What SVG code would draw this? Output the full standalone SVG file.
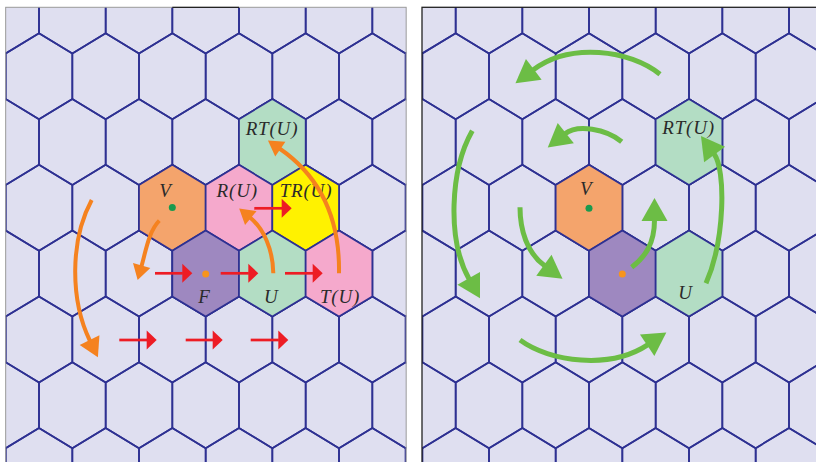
<svg xmlns="http://www.w3.org/2000/svg" width="816" height="462" viewBox="0 0 816 462">
<style>
.bg{fill:#dfdff0}
.gl{fill:none;stroke:#2e3192;stroke-width:1.7}
.hex{stroke:#2e3192;stroke-width:1.7}
.or{fill:#f4a46c}
.pu{fill:#9e88c0}
.gr{fill:#b3ddc4}
.pk{fill:#f5a9cc}
.ye{fill:#fff200}
.lbl{font-family:"Liberation Serif","Times New Roman",serif;font-style:italic;font-size:19px;fill:#2a2a2a;text-anchor:middle;letter-spacing:0.8px}
.ao{fill:none;stroke:#f5821f;stroke-width:4}
.ag{fill:none;stroke:#6cbd45;stroke-width:5}
.ar{fill:none;stroke:#ed1c24;stroke-width:2.7}
.dg{fill:#1a9a4e}
.do{fill:#f7941d}
</style>
<defs>
<path id="hx" d="M0,-43L33.33,-22.8L33.33,22.8L0,43L-33.33,22.8L-33.33,-22.8Z"/>
<g id="re"><use href="#hx" x="5.67"/><use href="#hx" x="72.33"/><use href="#hx" x="139"/><use href="#hx" x="205.67"/><use href="#hx" x="272.33"/><use href="#hx" x="339"/><use href="#hx" x="405.67"/></g>
<g id="ro"><use href="#hx" x="-27.67"/><use href="#hx" x="39"/><use href="#hx" x="105.67"/><use href="#hx" x="172.33"/><use href="#hx" x="239"/><use href="#hx" x="305.67"/><use href="#hx" x="372.33"/><use href="#hx" x="439"/></g>
<g id="grid" class="gl"><use href="#re" y="10.4"/><use href="#ro" y="76.2"/><use href="#re" y="142"/><use href="#ro" y="207.8"/><use href="#re" y="273.6"/><use href="#ro" y="339.4"/><use href="#re" y="405.2"/><use href="#ro" y="471"/></g>
<clipPath id="clipL"><rect x="5.67" y="7.3" width="400.5" height="460"/></clipPath>
<clipPath id="clipR"><rect x="422" y="7.3" width="400" height="460"/></clipPath>
<marker id="mr" markerUnits="userSpaceOnUse" markerWidth="11" markerHeight="20" refX="0.5" refY="9.5" orient="auto" overflow="visible"><path d="M0,0L10,9.5L0,19Z" fill="#ed1c24"/></marker>
<marker id="mo" markerUnits="userSpaceOnUse" markerWidth="15" markerHeight="18" refX="1" refY="9" orient="auto" overflow="visible"><path d="M0,0L15,9L0,18Z" fill="#f5821f"/></marker>
<marker id="mob" markerUnits="userSpaceOnUse" markerWidth="19" markerHeight="22" refX="1" refY="11" orient="auto" overflow="visible"><path d="M0,0L19,11L0,22Z" fill="#f5821f"/></marker>
<marker id="mg" markerUnits="userSpaceOnUse" markerWidth="23" markerHeight="26" refX="1" refY="13" orient="auto" overflow="visible"><path d="M0,0L23,13L0,26Z" fill="#6cbd45"/></marker>
</defs>
<g id="panel-left">
<rect class="bg" x="5.67" y="7.3" width="400.5" height="460"/>
<g clip-path="url(#clipL)"><use href="#grid"/></g>
</g>
<g id="panel-right">
<rect class="bg" x="422" y="7.3" width="400" height="460"/>
<g clip-path="url(#clipR)"><use href="#grid" x="416.67"/></g>
</g>
<g id="L-RTU"><use href="#hx" x="272.33" y="142" class="hex gr"/><text class="lbl" x="272" y="135">RT(U)</text></g>
<g id="L-V"><use href="#hx" x="172.33" y="207.8" class="hex or"/><circle class="dg" cx="172.3" cy="207.5" r="3.5"/><text class="lbl" x="165.5" y="196.7">V</text></g>
<g id="L-RU"><use href="#hx" x="239" y="207.8" class="hex pk"/><text class="lbl" x="237.2" y="197.3">R(U)</text></g>
<g id="L-TRU"><use href="#hx" x="305.67" y="207.8" class="hex ye"/><text class="lbl" x="306" y="197.3">TR(U)</text></g>
<g id="L-F"><use href="#hx" x="205.67" y="273.6" class="hex pu"/><circle class="do" cx="205.7" cy="274" r="3.5"/><text class="lbl" x="204.5" y="303.3">F</text></g>
<g id="L-U"><use href="#hx" x="272.33" y="273.6" class="hex gr"/><text class="lbl" x="271.2" y="302.7">U</text></g>
<g id="L-TU"><use href="#hx" x="339" y="273.6" class="hex pk"/><text class="lbl" x="340" y="303.3">T(U)</text></g>
<g id="R-RTU"><use href="#hx" x="689" y="142" class="hex gr"/><text class="lbl" x="688.6" y="133.5">RT(U)</text></g>
<g id="R-V"><use href="#hx" x="589" y="207.8" class="hex or"/><circle class="dg" cx="589" cy="208.3" r="3.5"/><text class="lbl" x="586.3" y="195">V</text></g>
<g id="R-F"><use href="#hx" x="622.33" y="273.6" class="hex pu"/><circle class="do" cx="622.3" cy="274" r="3.5"/></g>
<g id="R-U"><use href="#hx" x="689" y="273.6" class="hex gr"/><text class="lbl" x="685.4" y="299.3">U</text></g>
<g id="connectors">
<path class="ar" marker-end="url(#mr)" d="M254.3,208.3H282.2"/>
<path class="ar" marker-end="url(#mr)" d="M155,273.3H182.8"/>
<path class="ar" marker-end="url(#mr)" d="M220.7,273.3H248.8"/>
<path class="ar" marker-end="url(#mr)" d="M285,273.3H313.2"/>
<path class="ar" marker-end="url(#mr)" d="M119.3,340H147.2"/>
<path class="ar" marker-end="url(#mr)" d="M185.7,340H213.2"/>
<path class="ar" marker-end="url(#mr)" d="M250.7,340H278.8"/>
<path class="ao" marker-end="url(#mob)" d="M91.7,200C70,240 70,300 90,341"/>
<path class="ao" marker-end="url(#mo)" d="M159.3,220.7C149,231 146,250 141.4,266.5"/>
<path class="ao" marker-end="url(#mo)" d="M273.3,273.3C273,250 264,229 250,217.5"/>
<path class="ao" marker-end="url(#mo)" d="M339,273.3C340,215 318,175 279.5,148.5"/>
<path class="ag" marker-end="url(#mg)" d="M660,74.3C630,50 570,42 533,70"/>
<path class="ag" marker-end="url(#mg)" d="M621.7,141.7C606,129 577.5,123.9 565,133.8"/>
<path class="ag" marker-end="url(#mg)" d="M472.3,130.7C450,170 447,240 469.2,279.2"/>
<path class="ag" marker-end="url(#mg)" d="M520,207.3C520,230 527,253 544.7,265.8"/>
<path class="ag" marker-end="url(#mg)" d="M520,340C550,362 610,370 648,344.7"/>
<path class="ag" marker-end="url(#mg)" d="M631.7,267.3C645,257 654.5,244 654.5,220"/>
<path class="ag" marker-end="url(#mg)" d="M706,283.3C725,240 726,170 714,153.7"/>
</g>
<g id="frames" fill="none">
<rect x="5.67" y="7.3" width="400.5" height="470" stroke="#9a9a9a" stroke-width="1"/>
<line x1="172.3" y1="7.3" x2="239" y2="7.3" stroke="#222" stroke-width="1.2"/>
<rect x="422" y="7.3" width="410" height="470" stroke="#222" stroke-width="1.3"/>
</g>
</svg>
